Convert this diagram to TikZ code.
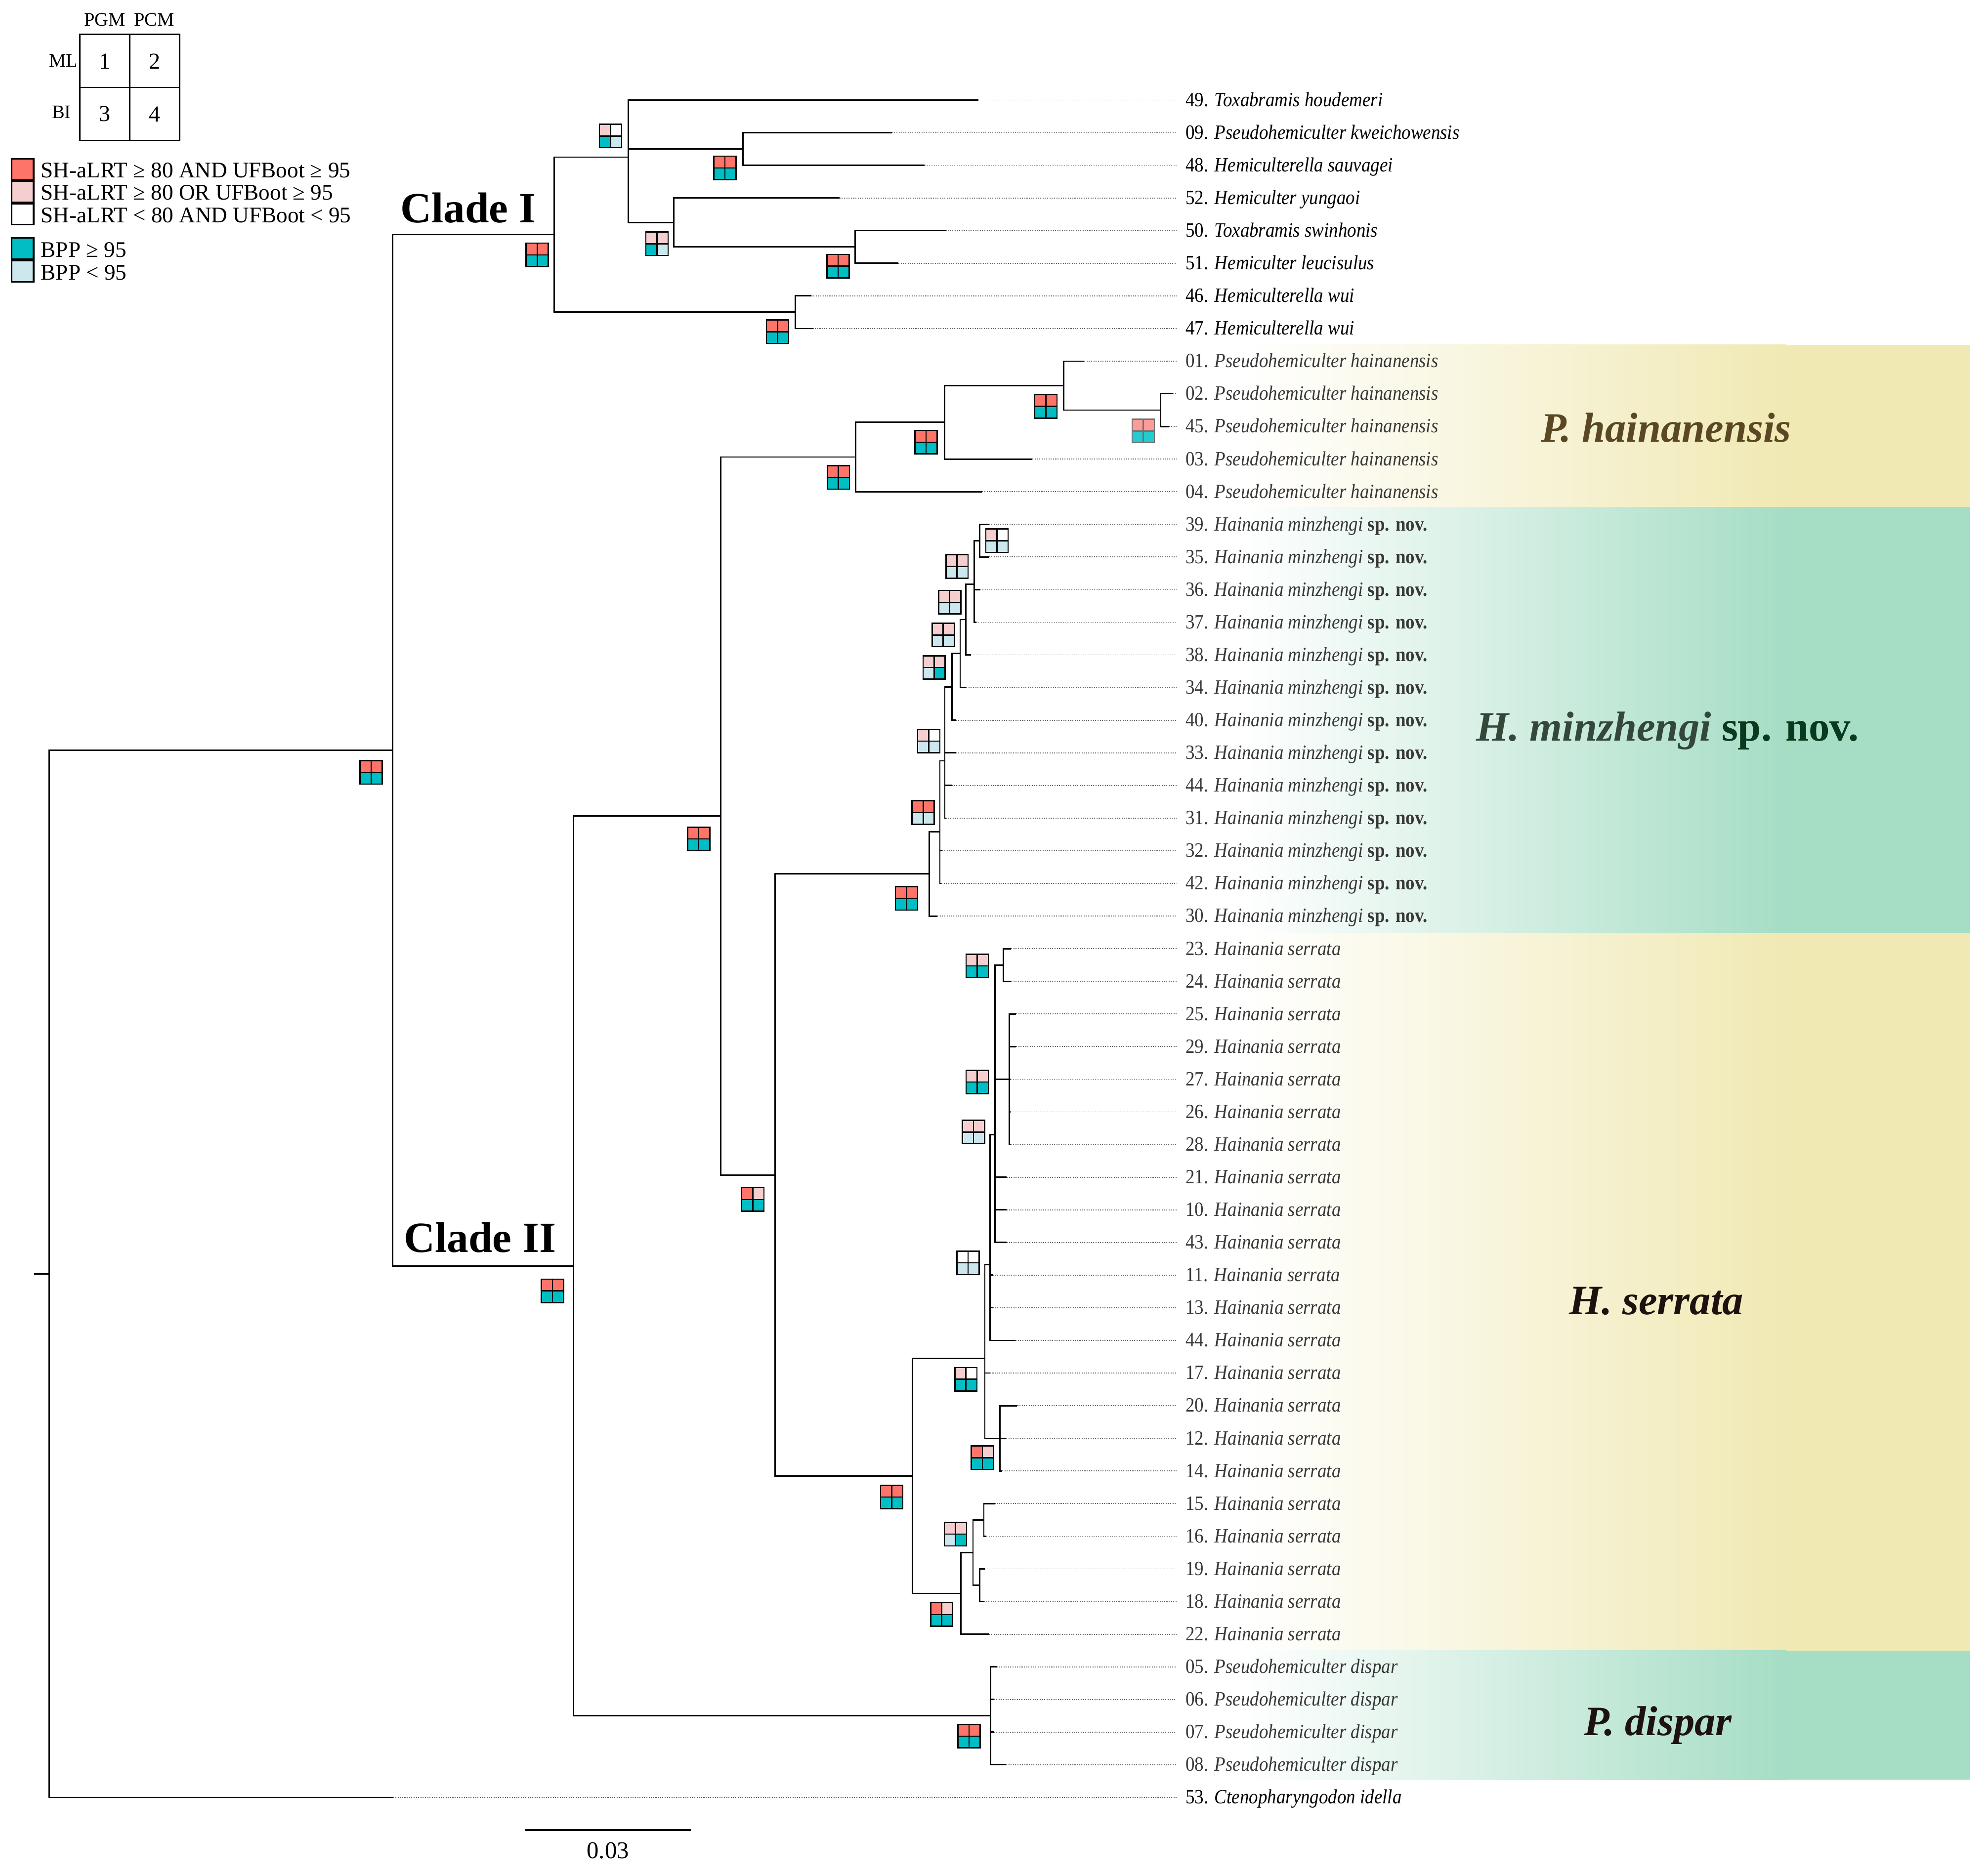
\documentclass[tikz,border=0pt]{standalone}
\usepackage{fontspec}
\setmainfont{Liberation Serif}
\newfontfamily\leaffont[FakeStretch=0.9]{Liberation Serif}
\usetikzlibrary{calc}
\definecolor{sred}{HTML}{FF7469}
\definecolor{spink}{HTML}{F5CFCF}
\definecolor{steal}{HTML}{00BEC4}
\definecolor{sblue}{HTML}{CCE8EE}
\definecolor{fred}{HTML}{FB9C96}
\definecolor{fteal}{HTML}{22CCD2}
\definecolor{khaki}{HTML}{F0E9B4}
\definecolor{mint}{HTML}{A6DDC5}
\definecolor{labgrey}{HTML}{383838}
\definecolor{hainc}{HTML}{5A4824}
\definecolor{minzc}{HTML}{33483A}
\definecolor{minzd}{HTML}{0A3A1E}
\definecolor{darkc}{HTML}{1E1210}
\newcommand\suppbox[7][black]{%
  \begin{scope}[shift={(#2,#3)}]
    \fill[#4] (0,0) rectangle (8.75,9.25);
    \fill[#5] (8.75,0) rectangle (17.5,9.25);
    \fill[#6] (0,9.25) rectangle (8.75,18.5);
    \fill[#7] (8.75,9.25) rectangle (17.5,18.5);
    \draw[#1,line width=1pt] (0,0) rectangle (17.5,18.5) (8.75,0)--(8.75,18.5) (0,9.25)--(17.5,9.25);
  \end{scope}}
\newcommand\leafnode[5]{%
  \coordinate (t#1) at (#2,#3);
  \node[leaflab,text=#4] (l#1) at (928,#3+5) {#5};
  \draw[leader] (t#1) -- (t#1 -| l#1.west);}
\tikzset{
  branch/.style={line width=1.1pt, line join=miter},
  leader/.style={black!60, line width=0.7pt, dash pattern=on 0.8pt off 1pt},
  leaflab/.style={anchor=base west, inner xsep=7pt, inner ysep=0pt, font=\leaffont\fontsize{16}{18}\selectfont},
  grouplab/.style={anchor=base, inner sep=0pt, font=\fontsize{33}{40}\selectfont\bfseries\itshape},
  cladelab/.style={anchor=base west, inner sep=0pt, font=\fontsize{34}{40}\selectfont\bfseries},
  legtext/.style={anchor=base west, inner sep=0pt, font=\fontsize{17.6}{20}\selectfont},
  gridtext/.style={inner sep=0pt, font=\fontsize{15}{18}\selectfont},
  gridnum/.style={inner sep=0pt, font=\fontsize{18}{20}\selectfont},
}
\begin{document}
\begin{tikzpicture}[x=1pt,y=-1pt]
\useasboundingbox (0,0) rectangle (1568,1478);
% ---------- background panels ----------
\shade[left color=white,right color=khaki] (980,272) rectangle (1409,400);
\fill[khaki] (1408.5,272) rectangle (1554,400);
\shade[left color=white,right color=mint] (980,400) rectangle (1409,736);
\fill[mint] (1408.5,400) rectangle (1554,736);
\shade[left color=white,right color=khaki] (980,736) rectangle (1409,1302);
\fill[khaki] (1408.5,736) rectangle (1554,1302);
\shade[left color=white,right color=mint] (980,1302) rectangle (1409,1404);
\fill[mint] (1408.5,1302) rectangle (1554,1404);
% ---------- legend ----------
\draw[line width=1pt] (62.9,27.1) rectangle (141.7,110.7) (102.4,27.1) -- (102.4,110.7) (62.9,68.9) -- (141.7,68.9);
\node[gridtext] (pgm) at (82.6,15.4) {PGM};
\node[gridtext] (pcm) at (121.5,15.4) {PCM};
\node[gridtext] (ml) at (50,48) {ML};
\node[gridtext] (bi) at (48.5,88.5) {BI};
\node[gridnum] (g1) at (82.6,48.5) {1};
\node[gridnum] (g2) at (122,48.5) {2};
\node[gridnum] (g3) at (82.6,90) {3};
\node[gridnum] (g4) at (122,90) {4};
\foreach \c/\t/\n in {sred/125.4/a, spink/143/b, white/160.6/c, steal/187.7/d, sblue/205.7/e}
  \draw[fill=\c,line width=1.2pt] (9,\t) rectangle (26.5,\t+16.6);
\node[legtext] (lega) at (32.1,140.1) {SH-aLRT ≥ 80 AND UFBoot ≥ 95};
\node[legtext] (legb) at (32.1,157.7) {SH-aLRT ≥ 80 OR UFBoot ≥ 95};
\node[legtext] (legc) at (32.1,175.4) {SH-aLRT < 80 AND UFBoot < 95};
\node[legtext] (legd) at (32.1,202.8) {BPP ≥ 95};
\node[legtext] (lege) at (32.1,220.6) {BPP < 95};
% ---------- tree ----------
\begin{scope}[shift={(0,0.9)}]
\leafnode{49}{771.6}{78}{black}{49. \textit{Toxabramis houdemeri}}
\leafnode{09}{703.4}{103.75}{black}{09. \textit{Pseudohemiculter kweichowensis}}
\leafnode{48}{729.3}{129.5}{black}{48. \textit{Hemiculterella sauvagei}}
\leafnode{52}{662.1}{155.25}{black}{52. \textit{Hemiculter yungaoi}}
\leafnode{50}{745.8}{181}{black}{50. \textit{Toxabramis swinhonis}}
\leafnode{51}{708.6}{206.75}{black}{51. \textit{Hemiculter leucisulus}}
\leafnode{46}{639.8}{232.5}{black}{46. \textit{Hemiculterella wui}}
\leafnode{47}{641}{258.25}{black}{47. \textit{Hemiculterella wui}}
\leafnode{01}{855.2}{284}{labgrey}{01. \textit{Pseudohemiculter hainanensis}}
\leafnode{02}{925}{309.75}{labgrey}{02. \textit{Pseudohemiculter hainanensis}}
\leafnode{45}{922}{335.5}{labgrey}{45. \textit{Pseudohemiculter hainanensis}}
\leafnode{03}{814.3}{361.25}{labgrey}{03. \textit{Pseudohemiculter hainanensis}}
\leafnode{04}{774.6}{387}{labgrey}{04. \textit{Pseudohemiculter hainanensis}}
\leafnode{39}{780}{412.75}{labgrey}{39. \textit{Hainania minzhengi} \textbf{sp. nov.}}
\leafnode{35}{780}{438.5}{labgrey}{35. \textit{Hainania minzhengi} \textbf{sp. nov.}}
\leafnode{36}{773}{464.25}{labgrey}{36. \textit{Hainania minzhengi} \textbf{sp. nov.}}
\leafnode{37}{770}{490}{labgrey}{37. \textit{Hainania minzhengi} \textbf{sp. nov.}}
\leafnode{38}{766}{515.75}{labgrey}{38. \textit{Hainania minzhengi} \textbf{sp. nov.}}
\leafnode{34}{762}{541.5}{labgrey}{34. \textit{Hainania minzhengi} \textbf{sp. nov.}}
\leafnode{40}{754}{567.25}{labgrey}{40. \textit{Hainania minzhengi} \textbf{sp. nov.}}
\leafnode{33}{754}{593}{labgrey}{33. \textit{Hainania minzhengi} \textbf{sp. nov.}}
\leafnode{44m}{750.7}{618.75}{labgrey}{44. \textit{Hainania minzhengi} \textbf{sp. nov.}}
\leafnode{31}{746}{644.5}{labgrey}{31. \textit{Hainania minzhengi} \textbf{sp. nov.}}
\leafnode{32}{743}{670.25}{labgrey}{32. \textit{Hainania minzhengi} \textbf{sp. nov.}}
\leafnode{42}{742.5}{696}{labgrey}{42. \textit{Hainania minzhengi} \textbf{sp. nov.}}
\leafnode{30}{739.4}{721.75}{labgrey}{30. \textit{Hainania minzhengi} \textbf{sp. nov.}}
\leafnode{23}{797.5}{747.5}{labgrey}{23. \textit{Hainania serrata}}
\leafnode{24}{797.5}{773.25}{labgrey}{24. \textit{Hainania serrata}}
\leafnode{25}{801.4}{799}{labgrey}{25. \textit{Hainania serrata}}
\leafnode{29}{801.4}{824.75}{labgrey}{29. \textit{Hainania serrata}}
\leafnode{27}{797.2}{850.5}{labgrey}{27. \textit{Hainania serrata}}
\leafnode{26}{797.2}{876.25}{labgrey}{26. \textit{Hainania serrata}}
\leafnode{28}{797.2}{902}{labgrey}{28. \textit{Hainania serrata}}
\leafnode{21}{793.9}{927.75}{labgrey}{21. \textit{Hainania serrata}}
\leafnode{10}{793.9}{953.5}{labgrey}{10. \textit{Hainania serrata}}
\leafnode{43}{793.9}{979.25}{labgrey}{43. \textit{Hainania serrata}}
\leafnode{11}{783}{1005}{labgrey}{11. \textit{Hainania serrata}}
\leafnode{13}{783}{1030.75}{labgrey}{13. \textit{Hainania serrata}}
\leafnode{44s}{801}{1056.5}{labgrey}{44. \textit{Hainania serrata}}
\leafnode{17}{781}{1082.25}{labgrey}{17. \textit{Hainania serrata}}
\leafnode{20}{802.3}{1108}{labgrey}{20. \textit{Hainania serrata}}
\leafnode{12}{793.6}{1133.75}{labgrey}{12. \textit{Hainania serrata}}
\leafnode{14}{790.5}{1159.5}{labgrey}{14. \textit{Hainania serrata}}
\leafnode{15}{784.4}{1185.25}{labgrey}{15. \textit{Hainania serrata}}
\leafnode{16}{778}{1211}{labgrey}{16. \textit{Hainania serrata}}
\leafnode{19}{776.7}{1236.75}{labgrey}{19. \textit{Hainania serrata}}
\leafnode{18}{776}{1262.5}{labgrey}{18. \textit{Hainania serrata}}
\leafnode{22}{780}{1288.25}{labgrey}{22. \textit{Hainania serrata}}
\leafnode{05}{786}{1314}{labgrey}{05. \textit{Pseudohemiculter dispar}}
\leafnode{06}{784}{1339.75}{labgrey}{06. \textit{Pseudohemiculter dispar}}
\leafnode{07}{784}{1365.5}{labgrey}{07. \textit{Pseudohemiculter dispar}}
\leafnode{08}{793.5}{1391.25}{labgrey}{08. \textit{Pseudohemiculter dispar}}
\leafnode{53}{310}{1417}{black}{53. \textit{Ctenopharyngodon idella}}
% internal nodes
\coordinate (nRoot) at (38.8,1003.98);
\coordinate (stub) at (26.8,1003.98);
\coordinate (nING) at (309.5,590.97);
\coordinate (nC1) at (437.1,184.22);
\coordinate (nA) at (495.6,123.06);
\coordinate (nB) at (586.1,116.625);
\coordinate (nC) at (531.3,174.56);
\coordinate (nD) at (674.5,193.875);
\coordinate (nE) at (627.4,245.375);
\coordinate (nC2) at (452.5,997.72);
\coordinate (nG) at (568.5,642.81);
\coordinate (nF) at (674.9,359.64);
\coordinate (nH) at (745.1,332.28);
\coordinate (nI) at (838.8,303.31);
\coordinate (nJ) at (915.5,322.625);
\coordinate (nK) at (611.2,925.97);
\coordinate (nL) at (732.9,688.47);
\coordinate (nO) at (741.3,655.18);
\coordinate (nP) at (745.2,599.30);
\coordinate (nV) at (751.0,540.96);
\coordinate (nU) at (757.3,514.68);
\coordinate (nT) at (761.7,487.85);
\coordinate (nS) at (768.3,459.96);
\coordinate (nR) at (772.7,425.625);
\coordinate (nM) at (719.6,1163.47);
\coordinate (nW) at (776.8,1070.88);
\coordinate (nBB) at (780.8,996.63);
\coordinate (nCC) at (784.8,894.28);
\coordinate (nDD) at (791.5,760.375);
\coordinate (nEE) at (796.1,850.5);
\coordinate (nAA) at (788.8,1133.75);
\coordinate (nX) at (758.0,1256.06);
\coordinate (nY) at (767.4,1223.875);
\coordinate (nZa) at (776.0,1198.125);
\coordinate (nZb) at (772.7,1249.625);
\coordinate (nN) at (781.2,1352.625);
\draw[branch] (stub) -- (nRoot);
\foreach \p/\c in {nRoot/nING, nRoot/t53, nING/nC1, nING/nC2, nC1/nA, nC1/nE,
  nA/t49, nA/nB, nA/nC, nB/t09, nB/t48, nC/t52, nC/nD, nD/t50, nD/t51, nE/t46, nE/t47,
  nC2/nG, nC2/nN, nG/nF, nG/nK, nF/nH, nF/t04, nH/nI, nH/t03, nI/t01, nI/nJ, nJ/t02, nJ/t45,
  nK/nL, nK/nM, nL/nO, nL/t30, nO/nP, nO/t32, nO/t42, nP/nV, nP/t33, nP/t44m, nP/t31,
  nV/nU, nV/t40, nU/nT, nU/t34, nT/nS, nT/t38, nS/nR, nS/t36, nS/t37, nR/t39, nR/t35,
  nM/nW, nM/nX, nW/nBB, nW/t17, nW/nAA, nBB/nCC, nBB/t11, nBB/t13, nBB/t44s,
  nCC/nDD, nCC/nEE, nCC/t21, nCC/t10, nCC/t43, nDD/t23, nDD/t24,
  nEE/t25, nEE/t29, nEE/t27, nEE/t26, nEE/t28, nAA/t20, nAA/t12, nAA/t14,
  nX/nY, nX/t22, nY/nZa, nY/nZb, nZa/t15, nZa/t16, nZb/t19, nZb/t18,
  nN/t05, nN/t06, nN/t07, nN/t08}
  \draw[branch] (\p) |- (\c);
\end{scope}
% ---------- support boxes ----------
\suppbox{284}{600}{sred}{sred}{steal}{steal}
\suppbox{415}{191.8}{sred}{sred}{steal}{steal}
\suppbox{472.8}{98.1}{spink}{white}{steal}{sblue}
\suppbox{563}{123.2}{sred}{sred}{steal}{steal}
\suppbox{509.4}{183}{spink}{spink}{steal}{sblue}
\suppbox{652.2}{200.7}{sred}{sred}{steal}{steal}
\suppbox{604.5}{252.4}{sred}{sred}{steal}{steal}
\suppbox{427}{1009}{sred}{sred}{steal}{steal}
\suppbox{542.4}{652.6}{sred}{sred}{steal}{steal}
\suppbox{652.5}{367.3}{sred}{sred}{steal}{steal}
\suppbox{721.7}{339.5}{sred}{sred}{steal}{steal}
\suppbox{816.2}{311.4}{sred}{sred}{steal}{steal}
\suppbox[black!55]{892.9}{330.8}{fred}{fred}{fteal}{fteal}
\suppbox{585}{937}{sred}{spink}{steal}{steal}
\suppbox{706.3}{699.5}{sred}{sred}{steal}{steal}
\suppbox{719.4}{631.7}{sred}{sred}{sblue}{sblue}
\suppbox{723.8}{575.3}{spink}{white}{sblue}{sblue}
\suppbox{728}{517.3}{spink}{spink}{sblue}{steal}
\suppbox{735.2}{491.7}{spink}{spink}{sblue}{sblue}
\suppbox{740.3}{465.8}{spink}{spink}{sblue}{sblue}
\suppbox{746.1}{437.6}{spink}{spink}{sblue}{sblue}
\suppbox{777.6}{417.3}{spink}{white}{sblue}{sblue}
\suppbox{694.5}{1171.7}{sred}{sred}{steal}{steal}
\suppbox{734}{1264.4}{sred}{spink}{steal}{steal}
\suppbox{744.8}{1201}{spink}{spink}{sblue}{steal}
\suppbox{753.1}{1078.8}{spink}{white}{steal}{steal}
\suppbox{766}{1140.7}{sred}{spink}{steal}{steal}
\suppbox{754.8}{987}{white}{white}{sblue}{sblue}
\suppbox{759}{883.8}{spink}{spink}{sblue}{sblue}
\suppbox{762}{752.8}{spink}{spink}{steal}{steal}
\suppbox{762}{844.3}{spink}{spink}{steal}{steal}
\suppbox{755.6}{1360.3}{sred}{sred}{steal}{steal}
% ---------- clade and group labels ----------
\node[cladelab] (cladeI) at (315.7,175.4) {Clade I};
\node[cladelab] (cladeII) at (318.4,987.7) {Clade II};
\node[grouplab,text=hainc] (gHain) at (1314,348.8) {P. hainanensis};
\node[grouplab,text=minzc] (gMinz) at (1315.3,584.4) {H. minzhengi \textcolor{minzd}{\upshape sp. nov.}};
\node[grouplab,text=darkc] (gSerr) at (1306.3,1037) {H. serrata};
\node[grouplab,text=darkc] (gDisp) at (1307.6,1369) {P. dispar};
% ---------- scale bar ----------
\coordinate (sb1) at (414.5,1443.8);
\coordinate (sb2) at (545,1443.8);
\draw[line width=1.5pt] (sb1) -- (sb2);
\node[inner sep=0pt,font=\fontsize{19}{22}\selectfont] (sbl) at (479.5,1459.7) {0.03};
\end{tikzpicture}
\end{document}
